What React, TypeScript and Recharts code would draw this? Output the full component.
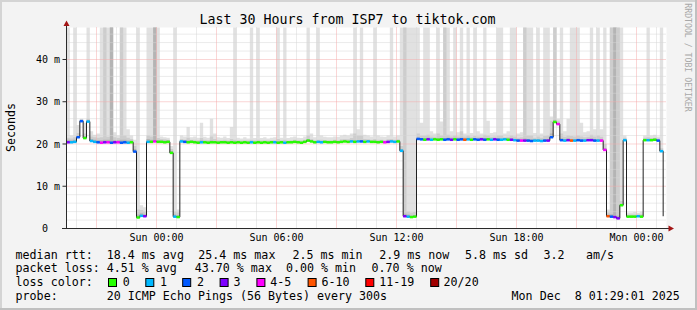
import {
  Area,
  CartesianGrid,
  ComposedChart,
  Line,
  ReferenceLine,
  XAxis,
  YAxis,
} from "recharts"

const MONO = "'DejaVu Sans Mono', monospace"
const T = 48 // smoke that leaves the top of the graph

// one value per 10 minutes, Sat 19:30 -> Mon 01:20
const stepMinutes = 10

const median = [
  20.4, 20.4, 20.5, 21.6, 25.4, 21.4, 25.3, 20.7, 20.5, 20.4,
  20.3, 20.4, 20.4, 20.3, 20.4, 20.4, 20.3, 20.4, 20.3, 20.4,
  18.2, 2.6, 3.0, 2.9, 20.5, 20.5, 20.6, 20.5, 20.5, 20.4,
  20.5, 17.9, 2.8, 2.7, 20.6, 20.5, 20.4, 20.5, 20.4, 20.3,
  20.4, 20.4, 20.3, 20.4, 20.4, 20.3, 20.4, 20.4, 20.3, 20.4,
  20.3, 20.4, 20.3, 20.4, 20.3, 20.4, 20.3, 20.4, 20.3, 20.4,
  20.3, 20.4, 20.4, 20.3, 20.4, 20.3, 20.4, 20.4, 20.5, 20.4,
  20.3, 20.5, 20.8, 20.6, 20.4, 20.5, 20.4, 20.5, 20.4, 20.4,
  20.5, 20.4, 20.5, 20.6, 20.5, 20.6, 20.5, 20.6, 20.6, 20.5,
  20.6, 20.5, 20.5, 20.4, 20.5, 20.4, 20.5, 20.6, 20.5, 20.6,
  18.4, 2.9, 2.8, 2.7, 2.8, 21.2, 21.1, 21.0, 21.1, 21.0,
  21.1, 21.0, 21.1, 21.0, 21.1, 21.0, 21.1, 21.0, 21.1, 21.0,
  21.1, 21.0, 21.1, 21.0, 21.1, 21.0, 21.1, 21.0, 21.1, 21.0,
  21.0, 21.1, 21.0, 21.0, 20.9, 20.8, 20.8, 20.8, 20.8, 20.7,
  20.8, 20.8, 20.7, 20.8, 20.8, 21.6, 25.2, 24.7, 20.9, 20.8,
  20.9, 20.8, 20.8, 20.9, 20.8, 20.8, 20.9, 20.9, 20.8, 20.8,
  20.8, 18.6, 2.9, 2.8, 2.7, 2.4, 5.5, 20.9, 2.8, 2.8,
  2.8, 2.9, 2.8, 20.9, 20.9, 20.9, 21.0, 20.8, 18.3, 2.9,
]

// index into lossColors
const lossBucket = [
  3, 1, 1, 2, 2, 0, 1, 1, 1, 2,
  4, 3, 4, 2, 3, 4, 2, 2, 1, 0,
  2, 0, 1, 3, 1, 0, 4, 0, 0, 0,
  0, 0, 1, 0, 1, 2, 0, 0, 0, 0,
  1, 0, 0, 0, 0, 0, 0, 0, 0, 0,
  0, 0, 0, 0, 0, 1, 0, 0, 0, 0,
  0, 0, 1, 0, 0, 1, 0, 0, 0, 0,
  0, 0, 0, 0, 0, 1, 1, 0, 0, 0,
  0, 0, 0, 0, 0, 1, 0, 1, 2, 0,
  1, 0, 0, 0, 0, 4, 3, 1, 1, 0,
  1, 3, 1, 0, 0, 2, 2, 0, 3, 1,
  0, 0, 0, 2, 2, 3, 0, 2, 2, 5,
  1, 0, 2, 2, 3, 2, 0, 1, 3, 2,
  1, 1, 0, 3, 1, 2, 4, 3, 2, 2,
  1, 1, 1, 2, 3, 2, 0, 4, 2, 1,
  3, 5, 1, 2, 2, 1, 3, 3, 2, 1,
  4, 4, 5, 2, 3, 3, 0, 1, 0, 0,
  0, 1, 0, 0, 1, 0, 0, 2, 1, 1,
]

// top of the light smoke (outer pings)
const smokeLight = [
  T, 22.0, T, 24.5, 26.0, 25.0, T, 23.0, 22.2, 22.5,
  T, T, T, T, 22.8, 22.0, T, T, 23.5, 22.0,
  21.0, T, 5.5, 5.0, T, T, T, T, 21.8, 21.6,
  21.5, 19.5, T, 4.5, 22.0, 21.8, 24.0, 21.6, 21.8, 21.5,
  25.0, 21.7, 21.5, 26.0, 22.5, 21.6, 21.5, 21.8, 21.4, 24.0,
  T, 21.5, 21.3, 21.6, 21.3, T, 21.4, T, 21.4, 21.6,
  21.3, 21.5, 21.6, T, 21.5, T, 21.4, 21.6, 21.8, 21.5,
  21.4, 21.8, T, 22.5, 21.6, T, 22.0, 21.7, 21.6, 21.6,
  21.8, 21.7, 22.0, 22.2, 22.0, 22.5, T, 23.5, T, 22.2,
  22.0, 21.8, T, 22.0, 21.8, 21.7, 22.0, T, 21.8, 22.0,
  T, T, T, T, T, T, 25.0, T, T, 23.0,
  22.5, T, 25.3, T, T, 23.0, T, 22.8, T, 22.5,
  T, 22.6, T, 23.0, 22.5, T, 25.5, 22.6, 22.8, T,
  T, 22.5, 23.0, T, T, 22.5, 22.8, T, T, T,
  22.6, T, 22.5, T, T, 26.5, T, 26.0, T, 23.0,
  26.0, T, T, T, 25.0, 22.8, 23.0, T, 23.5, T,
  23.5, T, 4.5, T, T, T, T, 22.0, 3.8, 3.8,
  3.9, 3.7, 4.0, 22.0, T, 22.0, 22.2, 21.8, T, 3.5,
]

// top of the medium smoke
const smokeMid = [
  21.5, 21.3, 21.6, 22.6, 25.8, 22.5, 26.0, 21.8, 21.6, 21.5,
  21.6, T, 21.7, T, 21.6, 21.4, T, 22.0, 21.5, 21.2,
  19.5, 4.5, 4.4, 4.0, 22.0, 21.8, T, 21.4, 21.2, 21.1,
  21.0, 18.8, 4.0, 3.8, 21.2, 21.0, 21.5, 21.0, 21.0, 20.9,
  21.4, 21.0, 20.9, 21.8, 21.2, 20.9, 20.9, 21.0, 20.8, 21.2,
  21.0, 20.9, 20.8, 20.9, 20.8, 21.0, 20.8, 21.0, 20.8, 20.9,
  20.8, 20.9, 20.9, 21.2, 20.9, 21.0, 20.8, 20.9, 21.0, 20.9,
  20.8, 21.0, 22.0, 21.2, 20.9, 21.0, 21.0, 20.9, 20.9, 20.9,
  21.0, 20.9, 21.1, 21.2, 21.1, 21.4, 22.5, 22.0, 22.0, 21.2,
  21.1, 21.0, 21.2, 21.0, 21.0, 20.9, 21.1, 21.2, 21.0, 21.1,
  19.5, T, 4.0, 3.8, 3.9, 22.5, 22.0, 22.0, 22.2, 21.8,
  21.7, 22.5, 22.0, T, 22.2, 21.8, 22.0, 21.8, 23.0, 21.8,
  22.0, 21.7, 21.9, 21.8, 21.7, 22.2, 22.0, 21.7, 21.8, 22.0,
  22.0, 21.6, 21.7, 22.0, 21.8, 21.5, 21.6, T, 22.0, 22.0,
  21.5, 21.8, 21.5, 21.9, 22.0, 25.5, T, 25.5, 22.5, 21.7,
  22.0, 21.9, 21.8, 22.0, 21.8, 21.6, 21.7, 22.2, 21.8, 22.0,
  21.7, 20.0, 3.8, T, T, T, 6.5, 21.5, 3.3, 3.3,
  3.3, 3.3, 3.4, 21.5, 21.6, 21.4, 21.5, 21.3, 19.0, 3.2,
]

// top of the dark smoke (pings next to the median)
const smokeDark = [
  21.0, 20.9, 21.0, 22.0, 25.6, 21.9, 25.7, 21.2, 21.0, 20.9,
  20.9, 21.0, 21.0, T, 20.9, 20.9, 21.0, 21.0, 20.8, 20.8,
  18.8, 3.3, 3.6, 3.4, 21.2, 21.0, T, 20.9, 20.8, 20.8,
  20.8, 18.3, 3.3, 3.2, 20.9, 20.8, 20.8, 20.8, 20.7, 20.6,
  20.8, 20.7, 20.6, 20.8, 20.7, 20.6, 20.7, 20.7, 20.6, 20.7,
  20.6, 20.6, 20.5, 20.6, 20.5, 20.7, 20.5, 20.6, 20.5, 20.6,
  20.5, 20.6, 20.6, 20.6, 20.6, 20.5, 20.6, 20.6, 20.7, 20.6,
  20.5, 20.7, 21.1, 20.8, 20.6, 20.7, 20.6, 20.7, 20.6, 20.6,
  20.7, 20.6, 20.7, 20.8, 20.7, 20.8, 20.9, 20.9, 20.9, 20.7,
  20.8, 20.7, 20.7, 20.6, 20.7, 20.6, 20.7, 20.8, 20.7, 20.8,
  18.8, 3.5, 3.3, 3.1, 3.2, 21.5, 21.4, 21.4, 21.5, 21.3,
  21.3, 21.4, 21.4, 21.4, 21.5, 21.3, 21.5, 21.4, 21.5, 21.4,
  21.5, 21.3, 21.4, 21.3, 21.4, 21.4, 21.4, 21.3, 21.4, 21.4,
  21.3, 21.4, 21.3, 21.3, 21.2, 21.1, 21.1, 21.3, 21.2, 21.1,
  21.1, 21.1, 21.0, 21.1, 21.2, 22.5, 25.7, 25.0, 21.3, 21.2,
  21.3, 21.2, 21.1, 21.2, 21.1, 21.1, 21.2, 21.3, 21.2, 21.2,
  21.2, 19.0, 3.3, 3.4, T, 3.0, 5.9, 21.2, 3.1, 3.1,
  3.1, 3.1, 3.1, 21.2, 21.2, 21.2, 21.3, 21.0, 18.6, 3.0,
]

const lossColors = [
  "#26ff00",
  "#00b8ff",
  "#0059ff",
  "#7e00ff",
  "#ff00ff",
  "#ff5500",
  "#ff0000",
  "#a10000",
]
const lossLabels = ["0", "1", "2", "3", "4-5", "6-10", "11-19", "20/20"]

// minutes since Sat 19:30
const timeTicks = [270, 630, 990, 1350, 1710]
const timeTickLabels = [
  "Sun 00:00",
  "Sun 06:00",
  "Sun 12:00",
  "Sun 18:00",
  "Mon 00:00",
]
const hourLines = Array.from({ length: 30 }, (_, i) => 30 + i * 60)
const majorHourLines = Array.from({ length: 10 }, (_, i) => 90 + i * 180)
const msTicks = [0, 10, 20, 30, 40]
const msMinorLines = [2, 4, 6, 8, 12, 14, 16, 18, 22, 24, 26, 28, 32, 34, 36, 38, 42, 44, 46]
const msMajorLines = [10, 20, 30, 40]

const Y_MAX = 47.57
const X_MAX = 1800
const PLOT_WIDTH = 600
const STEP_PX = (PLOT_WIDTH * stepMinutes) / X_MAX

const rows = median.map((value, index) => ({
  t: index * stepMinutes,
  median: value,
  loss: lossBucket[index],
  light: [value, smokeLight[index]],
  mid: [value, smokeMid[index]],
  dark: [value, smokeDark[index]],
}))

function renderLossDot(props: any) {
  const { cx, cy, index, payload } = props
  if (cx == null || cy == null || index === rows.length - 1) {
    return <g key={`loss-${index}`} />
  }
  return (
    <rect
      key={`loss-${index}`}
      x={cx}
      y={cy - 1.25}
      width={STEP_PX}
      height={2.5}
      fill={lossColors[payload.loss]}
    />
  )
}

function renderYTick(props: any) {
  const { x, y, payload } = props
  const label = payload.value === 0 ? "0\u00a0\u00a0" : `${payload.value} m`
  return (
    <text x={x - 0.5} y={y + 3.6} textAnchor="end" fontFamily={MONO} fontSize={10} fill="#000">
      {label}
    </text>
  )
}

function renderXTick(props: any) {
  const { x, y, payload } = props
  return (
    <text x={x} y={y + 12.8} textAnchor="middle" fontFamily={MONO} fontSize={10} fill="#000">
      {timeTickLabels[timeTicks.indexOf(payload.value)]}
    </text>
  )
}

const legendFont = { fontFamily: MONO, fontSize: 11.65, fill: "#000" }

const statRows = [
  {
    y: 258.5,
    items: [
      [15.6, "median rtt:"],
      [106.8, "18.4 ms avg"],
      [198.3, "25.4 ms max"],
      [292.5, "2.5 ms min"],
      [379.2, "2.9 ms now"],
      [465.0, "5.8 ms sd"],
      [543.6, "3.2"],
      [585.9, "am/s"],
    ],
  },
  {
    y: 272.2,
    items: [
      [15.6, "packet loss:"],
      [106.8, "4.51 % avg"],
      [194.8, "43.70 % max"],
      [285.9, "0.00 % min"],
      [371.6, "0.70 % now"],
    ],
  },
  {
    y: 299.7,
    items: [
      [15.6, "probe:"],
      [106.8, "20 ICMP Echo Pings (56 Bytes) every 300s"],
      [511.6, "Mon Dec \u00a08 01:29:01 2025"],
    ],
  },
]

const lossBoxX = [108, 145.3, 182.2, 219.6, 256.4, 307.6, 365.3, 430.2]
const lossLabelX = [122.8, 160.1, 197, 233.4, 270.3, 321.4, 379.2, 443.6]

export default function App() {
  return (
    <div
      style={{
        position: "absolute",
        left: 0,
        top: 0,
        width: 697,
        height: 310,
        background: "#f3f3f3",
        overflow: "hidden",
      }}
    >
      <ComposedChart
        width={697}
        height={310}
        data={rows}
        margin={{ top: 27.5, right: 30.5, bottom: 61.5, left: 0.5 }}
        style={{ position: "absolute", left: 0, top: 0 }}
      >
        <CartesianGrid fill="#ffffff" horizontal={false} vertical={false} />
        <XAxis
          type="number"
          dataKey="t"
          domain={[0, X_MAX]}
          ticks={timeTicks}
          interval={0}
          tick={renderXTick}
          tickLine={false}
          tickSize={0}
          tickMargin={0}
          height={20}
          axisLine={{ stroke: "#2a2a2a" }}
          allowDataOverflow
        />
        <YAxis
          type="number"
          domain={[0, Y_MAX]}
          ticks={msTicks}
          interval={0}
          tick={renderYTick}
          tickLine={{ stroke: "#2a2a2a" }}
          tickSize={4}
          width={66}
          axisLine={{ stroke: "#2a2a2a" }}
          allowDataOverflow
        />
        <Area
          dataKey="light"
          type="stepAfter"
          fill="#e1e1e1"
          fillOpacity={1}
          stroke="none"
          isAnimationActive={false}
        />
        <Area
          dataKey="mid"
          type="stepAfter"
          fill="#cdcdcd"
          fillOpacity={1}
          stroke="none"
          isAnimationActive={false}
        />
        <Area
          dataKey="dark"
          type="stepAfter"
          fill="#b4b4b4"
          fillOpacity={1}
          stroke="none"
          isAnimationActive={false}
        />
        {msMinorLines.map((v) => (
          <ReferenceLine key={`hm-${v}`} y={v} stroke="#d6d6d6" strokeDasharray="1 1" />
        ))}
        {hourLines
          .filter((m) => !majorHourLines.includes(m))
          .map((m) => (
            <ReferenceLine key={`vm-${m}`} x={m} stroke="#d6d6d6" strokeDasharray="1 1" />
          ))}
        {msMajorLines.map((v) => (
          <ReferenceLine key={`hM-${v}`} y={v} stroke="#f5acac" strokeDasharray="1 1" />
        ))}
        {majorHourLines.map((m) => (
          <ReferenceLine key={`vM-${m}`} x={m} stroke="#f5acac" strokeDasharray="1 1" />
        ))}
        <Line
          dataKey="median"
          type="stepAfter"
          stroke="#202020"
          strokeWidth={1}
          dot={renderLossDot}
          activeDot={false}
          isAnimationActive={false}
        />
      </ComposedChart>

      <svg
        width={697}
        height={310}
        style={{ position: "absolute", left: 0, top: 0, pointerEvents: "none" }}
      >
        {/* frame */}
        <rect x={0} y={0} width={697} height={2} fill="#d4d4d4" />
        <rect x={0} y={0} width={2} height={310} fill="#d4d4d4" />
        <rect x={0} y={308} width={697} height={2} fill="#c0c0c0" />
        <rect x={695} y={0} width={2} height={310} fill="#c0c0c0" />

        <text x={347.5} y={24} textAnchor="middle" fontFamily={MONO} fontSize={13.3} fill="#000">
          Last 30 Hours from ISP7 to tiktok.com
        </text>
        <text
          transform="translate(14.5 127.5) rotate(-90)"
          textAnchor="middle"
          fontFamily={MONO}
          fontSize={11.65}
          fill="#000"
        >
          Seconds
        </text>
        <text
          transform="translate(685 57.5) rotate(90)"
          textAnchor="middle"
          fontFamily={MONO}
          fontSize={8.2}
          fill="#a8a8a8"
        >
          RRDTOOL / TOBI OETIKER
        </text>

        {/* axis extensions and arrows */}
        <line x1={62} y1={228.5} x2={669} y2={228.5} stroke="#2a2a2a" />
        <line x1={66.5} y1={23} x2={66.5} y2={228.5} stroke="#2a2a2a" />
        <polygon points="66.5,20.5 63.5,26 69.5,26" fill="#a31515" />
        <polygon points="674,228.5 668.5,225.5 668.5,231.5" fill="#a31515" />

        {statRows.map((row) =>
          row.items.map(([x, label]) => (
            <text key={`${row.y}-${x}`} x={x as number} y={row.y} {...legendFont}>
              {label as string}
            </text>
          ))
        )}
        <text x={15.6} y={286} {...legendFont}>
          loss color:
        </text>
        {lossColors.map((color, i) => (
          <g key={color}>
            <rect
              x={lossBoxX[i] + 0.5}
              y={278.5}
              width={8}
              height={8}
              fill={color}
              stroke="#000"
              strokeWidth={1}
            />
            <text x={lossLabelX[i]} y={286} {...legendFont}>
              {lossLabels[i]}
            </text>
          </g>
        ))}
      </svg>
    </div>
  )
}
